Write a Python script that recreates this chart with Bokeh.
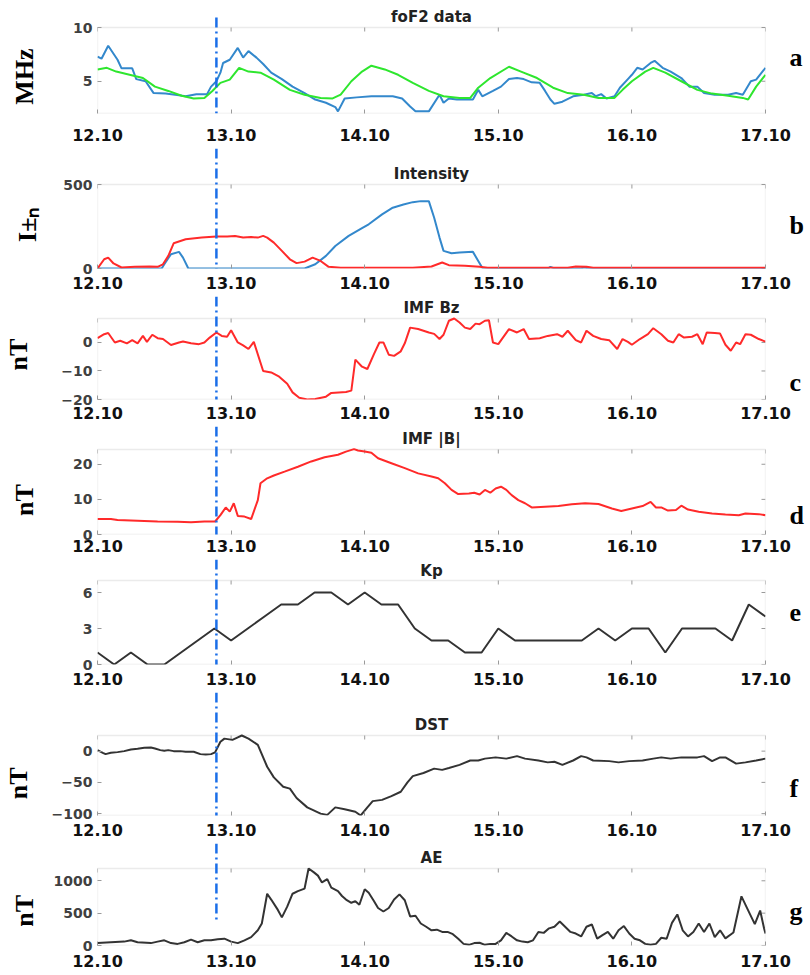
from bokeh.plotting import figure
from bokeh.layouts import column
from bokeh.models import Range1d, FixedTicker, LinearAxis, Arrow, Label, BoxAnnotation
from bokeh.embed import file_html
from bokeh.resources import INLINE

# ------------------------------------------------------------------ data
day_ticks = [12, 13, 14, 15, 16, 17]
day_tick_labels = ["12.10", "13.10", "14.10", "15.10", "16.10", "17.10"]
event_day = 12.89

# foF2 observed (blue) and model (green), MHz
fof2_obs_day = [12.0, 12.03, 12.08, 12.15, 12.18, 12.26, 12.29, 12.36, 12.42, 12.51, 12.61, 12.66,
                12.74, 12.82, 12.85, 12.89, 12.92, 12.94, 12.99, 13.05, 13.09, 13.13, 13.19, 13.24,
                13.3, 13.38, 13.46, 13.55, 13.63, 13.71, 13.78, 13.8, 13.85, 13.94, 14.05, 14.21,
                14.28, 14.34, 14.38, 14.48, 14.56, 14.59, 14.63, 14.69, 14.81, 14.85, 14.88, 14.96,
                15.02, 15.08, 15.14, 15.19, 15.25, 15.31, 15.35, 15.39, 15.42, 15.48, 15.56, 15.64,
                15.7, 15.73, 15.77, 15.81, 15.87, 15.91, 15.97, 16.0, 16.04, 16.08, 16.14, 16.17,
                16.23, 16.29, 16.37, 16.43, 16.49, 16.54, 16.62, 16.72, 16.78, 16.83, 16.89, 16.93, 17.0]
fof2_obs = [7.3, 7.1, 8.3, 7.0, 6.2, 6.2, 5.2, 5.0, 3.9, 3.85, 3.7, 3.6,
            3.8, 3.8, 4.5, 5.0, 5.8, 6.7, 7.0, 8.1, 7.2, 7.8, 7.2, 6.6,
            5.8, 5.2, 4.5, 3.9, 3.3, 3.0, 2.6, 2.2, 3.4, 3.5, 3.6, 3.6,
            3.4, 2.65, 2.2, 2.2, 3.75, 3.0, 3.4, 3.3, 3.3, 4.2, 3.6, 4.1,
            4.5, 5.2, 5.3, 5.2, 4.9, 4.85, 4.1, 3.3, 2.9, 3.1, 3.6, 3.75,
            3.9, 3.6, 3.8, 3.4, 3.6, 4.4, 5.2, 5.6, 6.25, 6.1, 6.7, 6.9,
            6.25, 5.9, 5.3, 4.5, 4.5, 3.9, 3.75, 3.75, 3.9, 3.75, 5.0, 5.15, 6.25]
fof2_model_day = [12.0, 12.07, 12.14, 12.24, 12.34, 12.43, 12.53, 12.63, 12.72, 12.8, 12.86, 12.92,
                  12.99, 13.06, 13.13, 13.22, 13.32, 13.44, 13.55, 13.67, 13.76, 13.82, 13.9, 13.98,
                  14.05, 14.15, 14.25, 14.36, 14.48, 14.59, 14.71, 14.79, 14.85, 14.94, 15.08, 15.17,
                  15.29, 15.41, 15.52, 15.64, 15.75, 15.87, 15.93, 16.0, 16.1, 16.16, 16.25, 16.37,
                  16.49, 16.6, 16.72, 16.83, 16.87, 16.93, 17.0]
fof2_model = [6.1, 6.25, 5.9, 5.6, 5.3, 4.5, 4.1, 3.65, 3.4, 3.45, 4.1, 4.85,
              5.15, 6.25, 5.9, 5.8, 5.15, 4.2, 3.75, 3.45, 3.4, 3.75, 5.0, 5.9,
              6.45, 6.1, 5.6, 4.85, 4.1, 3.6, 3.45, 3.45, 4.4, 5.3, 6.35, 5.9,
              5.3, 4.4, 3.9, 3.75, 3.45, 3.45, 4.2, 5.0, 5.9, 6.25, 5.8, 5.0,
              4.2, 3.85, 3.65, 3.45, 3.3, 4.5, 5.6]

# Intensity I+ (red) and I- (blue)
int_red_day = [12.0, 12.05, 12.08, 12.12, 12.18, 12.28, 12.39, 12.45, 12.49, 12.53, 12.57, 12.66,
               12.78, 12.89, 12.97, 13.03, 13.09, 13.15, 13.2, 13.24, 13.27, 13.32, 13.38, 13.44,
               13.49, 13.55, 13.61, 13.67, 13.73, 13.82, 14.36, 14.5, 14.58, 14.63, 14.75, 14.86,
               14.92, 15.52, 15.58, 15.66, 15.71, 17.0]
int_red = [0, 55, 65, 30, 6, 10, 12, 10, 25, 75, 150, 174,
           184, 190, 190, 194, 184, 188, 184, 194, 184, 154, 105, 55,
           32, 41, 65, 45, 10, 4, 4, 12, 36, 20, 16, 10,
           4, 4, 12, 10, 4, 4]
int_blue_day = [12.0, 12.48, 12.5, 12.55, 12.61, 12.64, 12.68, 13.55, 13.63, 13.71, 13.78, 13.88,
                13.98, 14.03, 14.13, 14.21, 14.29, 14.36, 14.42, 14.48, 14.52, 14.56, 14.59, 14.65,
                14.71, 14.81, 14.85, 14.88, 15.37, 15.39, 15.42, 15.62, 15.64, 15.68, 17.0]
int_blue = [0, 0, 25, 85, 99, 65, 0, 0, 25, 75, 134, 194,
            240, 263, 322, 362, 381, 395, 401, 401, 302, 184, 105, 91,
            95, 99, 45, 4, 0, 10, 0, 0, 6, 0, 0]

# IMF Bz, nT
bz_day = [12.0, 12.05, 12.08, 12.13, 12.17, 12.22, 12.26, 12.3, 12.34, 12.37, 12.41, 12.45,
          12.49, 12.55, 12.61, 12.64, 12.7, 12.76, 12.8, 12.84, 12.89, 12.93, 12.97, 13.0,
          13.05, 13.09, 13.13, 13.17, 13.24, 13.3, 13.36, 13.42, 13.46, 13.51, 13.57, 13.63,
          13.71, 13.75, 13.86, 13.9, 13.93, 13.98, 14.02, 14.07, 14.11, 14.14, 14.18, 14.22,
          14.27, 14.3, 14.34, 14.4, 14.44, 14.48, 14.52, 14.56, 14.59, 14.63, 14.67, 14.71,
          14.75, 14.79, 14.83, 14.86, 14.9, 14.93, 14.96, 15.0, 15.08, 15.14, 15.19, 15.23,
          15.31, 15.37, 15.44, 15.48, 15.52, 15.58, 15.62, 15.66, 15.71, 15.77, 15.83, 15.89,
          15.93, 15.97, 16.0, 16.06, 16.12, 16.16, 16.22, 16.27, 16.31, 16.35, 16.39, 16.45,
          16.49, 16.53, 16.56, 16.62, 16.66, 16.7, 16.74, 16.78, 16.81, 16.85, 16.89, 16.95, 17.0]
bz = [1.5, 2.9, 3.3, 0.0, 0.6, -0.3, 0.8, -0.3, 2.3, 0.2, 2.7, 1.5,
      1.2, -0.9, 0.0, 0.3, -0.3, -0.6, 0.0, 1.7, 3.5, 2.3, 2.0, 4.3,
      0.0, -1.0, -2.3, 0.2, -10.0, -10.5, -12.0, -14.5, -17.5, -19.4, -20.0, -19.8,
      -19.0, -17.7, -17.4, -16.9, -6.0, -8.5, -9.3, -4.0, 0.0, 0.0, -4.3, -4.7,
      -3.1, -0.3, 5.2, 4.7, 4.1, 3.5, 3.0, 1.2, 2.7, 7.6, 8.4, 7.0,
      5.2, 4.7, 6.6, 6.4, 7.6, 7.8, 0.0, -0.6, 4.7, 3.5, 4.7, 1.2,
      1.5, 2.3, 2.9, 2.0, 4.1, 0.8, 0.0, 4.1, 2.3, 1.2, 0.8, -2.3,
      1.2, 0.2, -0.8, 1.2, 2.9, 5.0, 2.9, 0.6, 0.0, 2.9, 1.7, 2.0,
      2.9, -0.6, 3.5, 3.3, 3.1, -0.8, -2.9, 0.0, -0.6, 2.9, 2.7, 1.2, 0.3]

# IMF |B|, nT
bt_day = [12.0, 12.1, 12.15, 12.3, 12.45, 12.6, 12.7, 12.8, 12.88, 12.92, 12.96, 12.99,
          13.02, 13.05, 13.1, 13.15, 13.2, 13.22, 13.27, 13.32, 13.4, 13.5, 13.6, 13.7,
          13.8, 13.86, 13.92, 13.95, 14.0, 14.05, 14.1, 14.2, 14.3, 14.4, 14.5, 14.55,
          14.6, 14.65, 14.7, 14.78, 14.82, 14.86, 14.9, 14.94, 14.98, 15.02, 15.06, 15.1,
          15.15, 15.2, 15.25, 15.35, 15.45, 15.55, 15.65, 15.75, 15.85, 15.92, 16.0, 16.08,
          16.14, 16.18, 16.22, 16.27, 16.33, 16.37, 16.42, 16.5, 16.6, 16.7, 16.8, 16.85,
          16.95, 17.0]
bt = [4.4, 4.4, 4.1, 3.9, 3.7, 3.6, 3.5, 3.7, 3.7, 5.5, 7.7, 6.5,
      8.9, 5.3, 5.1, 4.4, 9.8, 14.6, 16.0, 16.8, 17.9, 19.3, 20.8, 22.0,
      22.7, 23.6, 24.3, 23.9, 23.6, 23.3, 21.7, 20.3, 18.9, 17.4, 16.5, 16.0,
      14.6, 12.7, 11.5, 11.7, 11.9, 11.4, 12.7, 11.9, 13.1, 13.6, 12.7, 11.2,
      9.8, 8.9, 7.7, 7.9, 8.1, 8.6, 8.9, 8.7, 7.4, 6.7, 7.4, 8.1,
      9.3, 7.7, 7.7, 6.8, 7.0, 8.2, 7.1, 6.5, 6.0, 5.7, 5.5, 6.0,
      5.8, 5.5]

# Kp, 3-hourly
kp_day = [12.0, 12.125, 12.25, 12.375, 12.5, 12.625, 12.75, 12.875, 13.0, 13.125, 13.25,
          13.375, 13.5, 13.625, 13.75, 13.875, 14.0, 14.125, 14.25, 14.375, 14.5, 14.625,
          14.75, 14.875, 15.0, 15.125, 15.25, 15.375, 15.5, 15.625, 15.75, 15.875, 16.0,
          16.125, 16.25, 16.375, 16.5, 16.625, 16.75, 16.875, 17.0]
kp = [1, 0, 1, 0, 0, 1, 2, 3, 2, 3, 4,
      5, 5, 6, 6, 5, 6, 5, 5, 3, 2, 2,
      1, 1, 3, 2, 2, 2, 2, 2, 3, 2, 3,
      3, 1, 3, 3, 3, 2, 5, 4]

# Dst, nT
dst_day = [12.0, 12.04, 12.06, 12.1, 12.15, 12.2, 12.25, 12.3, 12.35, 12.4, 12.43, 12.47,
           12.5, 12.53, 12.57, 12.62, 12.66, 12.72, 12.77, 12.81, 12.85, 12.88, 12.92, 12.95,
           13.01, 13.05, 13.08, 13.13, 13.2, 13.27, 13.32, 13.39, 13.44, 13.49, 13.57, 13.67,
           13.72, 13.78, 13.85, 13.93, 13.97, 14.02, 14.06, 14.13, 14.2, 14.27, 14.32, 14.36,
           14.44, 14.52, 14.58, 14.63, 14.71, 14.79, 14.85, 14.9, 14.98, 15.06, 15.14, 15.2,
           15.3, 15.37, 15.42, 15.48, 15.56, 15.62, 15.66, 15.71, 15.83, 15.9, 15.98, 16.08,
           16.16, 16.22, 16.29, 16.37, 16.49, 16.54, 16.6, 16.66, 16.7, 16.78, 16.85, 16.93, 17.0]
dst = [1.6, -2.7, -4.8, -2.7, -1.6, 0, 2.7, 3.7, 5.3, 5.9, 4.3, 1.6,
       0.5, 1.6, 0, 0, -1, -1, -4.8, -5.3, -4.8, -2, 15, 20,
       18, 22, 25, 20, 10, -25, -42, -57, -60, -75, -90, -100,
       -102, -90, -93, -97, -103, -90, -80, -78, -72, -65, -50, -40,
       -35, -28, -30, -27, -22, -15, -15, -12, -10, -12, -8, -12,
       -15, -18, -17, -22, -15, -8, -10, -15, -16, -18, -16, -15,
       -12, -10, -12, -10, -10, -8, -16, -10, -10, -20, -18, -15, -12]

# AE, nT
ae_day = [12.0, 12.1, 12.2, 12.25, 12.3, 12.4, 12.45, 12.5, 12.55, 12.6, 12.65, 12.7,
          12.75, 12.8, 12.85, 12.9, 12.95, 13.0, 13.05, 13.1, 13.15, 13.2, 13.23, 13.27,
          13.3, 13.35, 13.38, 13.42, 13.46, 13.5, 13.55, 13.58, 13.62, 13.65, 13.68, 13.72,
          13.75, 13.8, 13.83, 13.86, 13.9, 13.93, 13.96, 14.0, 14.03, 14.07, 14.1, 14.14,
          14.18, 14.22, 14.26, 14.3, 14.34, 14.38, 14.42, 14.46, 14.5, 14.54, 14.58, 14.62,
          14.66, 14.7, 14.74, 14.78, 14.82, 14.86, 14.9, 14.94, 14.98, 15.02, 15.06, 15.1,
          15.14, 15.18, 15.22, 15.26, 15.3, 15.34, 15.38, 15.42, 15.46, 15.5, 15.54, 15.58,
          15.62, 15.66, 15.7, 15.74, 15.78, 15.82, 15.86, 15.9, 15.94, 15.98, 16.02, 16.06,
          16.1, 16.14, 16.18, 16.22, 16.26, 16.3, 16.34, 16.38, 16.42, 16.46, 16.5, 16.54,
          16.58, 16.62, 16.66, 16.7, 16.76, 16.82, 16.88, 16.92, 16.96, 16.99, 17.0]
ae = [37, 50, 60, 80, 50, 37, 60, 80, 37, 25, 50, 90,
      50, 80, 80, 95, 105, 60, 37, 80, 130, 235, 340, 800,
      710, 550, 435, 600, 800, 840, 880, 1190, 1130, 1080, 975, 1025,
      895, 840, 765, 710, 660, 685, 630, 870, 815, 685, 580, 525,
      580, 710, 790, 700, 450, 460, 340, 290, 235, 245, 210, 210,
      175, 105, 25, 10, 37, 42, 10, 25, 25, 80, 195, 140,
      80, 60, 50, 80, 210, 195, 265, 290, 370, 290, 210, 185,
      140, 290, 325, 105, 160, 210, 105, 235, 300, 185, 105, 80,
      25, 10, 25, 120, 105, 350, 480, 235, 140, 210, 340, 210,
      340, 130, 235, 110, 200, 760, 500, 330, 540, 260, 185]

# ------------------------------------------------------------------ style
SANS = "DejaVu Sans"
SERIF = "Liberation Serif"
W = 810
LEFT = 97
RIGHT = 45
BLUE = "#3388cc"
GREEN = "#2ee62e"
RED = "#ff2a2a"
DARK = "#333333"
EVENT = "#1a6ee8"
TICK = "#9a9a9a"
BOX = "#bcbcbc"
NBSP = "\u00a0"
X0, X1 = 12, 17
FRAME_W = W - LEFT - RIGHT


def make_panel(title, yr, yticks, top, box_h, bottom, xstandoff,
               ylabel=None, ylabel_pad=0, ylabel_standoff=20, letter="", letter_lines=0,
               ev_top_px=None, ev_bottom=None, title_px=11):
    """top: free space (px) above the data box; it belongs to the frame so that the
    event line and the panel title can be drawn there."""
    upp = (yr[1] - yr[0]) / box_h            # y data units per pixel
    xpp = (X1 - X0) / FRAME_W                # x data units per pixel
    ext_top = yr[1] + top * upp
    p = figure(width=W, height=top + box_h + bottom, title=None,
               x_range=Range1d(X0, X1), y_range=Range1d(yr[0], ext_top),
               output_backend="svg", toolbar_location=None,
               min_border_left=LEFT, min_border_right=RIGHT,
               min_border_top=0, min_border_bottom=bottom)
    p.grid.visible = False
    p.outline_line_color = None
    p.border_fill_color = "white"
    p.background_fill_color = "white"

    # the data box
    p.add_layout(BoxAnnotation(left=X0, right=X1, bottom=yr[0], top=yr[1], fill_color=None,
                               line_color=BOX, line_width=1.3, level="underlay"))
    # mirrored inner ticks on the top and right edges of the box
    p.segment(x0=day_ticks, y0=[yr[1]] * len(day_ticks), x1=day_ticks,
              y1=[yr[1] - 4 * upp] * len(day_ticks), line_color=TICK, line_width=1)
    p.segment(x0=[X1] * len(yticks), y0=yticks, x1=[X1 - 4 * xpp] * len(yticks), y1=yticks,
              line_color=TICK, line_width=1)

    xa = p.xaxis[0]
    xa.ticker = FixedTicker(ticks=day_ticks)
    xa.major_label_overrides = {t: l for t, l in zip(day_ticks, day_tick_labels)}
    ya = p.yaxis[0]
    ya.ticker = FixedTicker(ticks=yticks)
    for ax in (xa, ya):
        ax.axis_line_color = None
        ax.major_tick_in = 4
        ax.major_tick_out = 0
        ax.major_tick_line_color = TICK
        ax.minor_tick_line_color = None
        ax.major_label_text_font = SANS
        ax.major_label_text_font_style = "bold"
    xa.major_label_text_font_size = "16px"
    xa.major_label_text_color = "#111111"
    xa.major_label_standoff = xstandoff
    ya.major_label_text_font_size = "14px"
    ya.major_label_text_color = "#404040"
    ya.major_label_standoff = 5
    if ylabel:
        ya.axis_label = ylabel + NBSP * ylabel_pad
        ya.axis_label_text_font = SERIF
        ya.axis_label_text_font_style = "bold"
        ya.axis_label_text_font_size = "26px"
        ya.axis_label_text_color = "#000000"
        ya.axis_label_standoff = ylabel_standoff

    ra = LinearAxis(ticker=FixedTicker(ticks=[]), axis_label="\n" * letter_lines + letter,
                    axis_label_orientation="horizontal", axis_line_color=None,
                    major_tick_line_color=None, minor_tick_line_color=None,
                    major_label_standoff=0, axis_label_standoff=24,
                    axis_label_text_font=SERIF, axis_label_text_font_style="bold",
                    axis_label_text_font_size="26px", axis_label_text_color="#000000")
    p.add_layout(ra, "right")

    # panel title, just above the data box
    p.add_layout(Label(x=(X0 + X1) / 2, y=yr[1] + title_px * upp, text=title, text_align="center",
                       text_baseline="middle", text_font=SANS, text_font_style="bold",
                       text_font_size="15px", text_color="#222222"))

    # event marker (dash-dot vertical line)
    y0 = yr[1] + ev_top_px * upp if ev_top_px is not None else ext_top + 20 * upp
    y1 = ev_bottom if ev_bottom is not None else yr[0] - 20 * upp
    p.add_layout(Arrow(end=None, x_start=event_day, x_end=event_day, y_start=y0, y_end=y1,
                       line_color=EVENT, line_width=2.5, line_dash="10 4 2 4"))
    return p


pa = make_panel("foF2 data", (2, 10), [5, 10], 27, 86, 35, 15,
                ylabel="MHz", ylabel_pad=6, ylabel_standoff=31, letter="a", letter_lines=0,
                ev_top_px=10)
pa.line(fof2_obs_day, fof2_obs, line_color=BLUE, line_width=2)
pa.line(fof2_model_day, fof2_model, line_color=GREEN, line_width=2)

pb = make_panel("Intensity", (0, 500), [0, 500], 36, 84, 28, 8,
                ylabel="I\u00b1\u2099", ylabel_pad=5, ylabel_standoff=18, letter="b", letter_lines=1)
pb.line(int_blue_day, int_blue, line_color=BLUE, line_width=2)
pb.line(int_red_day, int_red, line_color=RED, line_width=2)

pc = make_panel("IMF Bz", (-20, 8.4), [-20, -10, 0], 22, 81, 27, 7,
                ylabel="nT", ylabel_pad=2, ylabel_standoff=25, letter="c", letter_lines=2)
pc.line(bz_day, bz, line_color=RED, line_width=2)

pd = make_panel("IMF |B|", (0, 24.2), [0, 10, 20], 23, 85, 25, 5,
                ylabel="nT", ylabel_pad=6, ylabel_standoff=31, letter="d", letter_lines=2)
pd.line(bt_day, bt, line_color=RED, line_width=2)

pe = make_panel("Kp", (0, 7), [0, 3, 6], 21, 84, 28, 8, letter="e", letter_lines=0,
                title_px=10)
pe.line(kp_day, kp, line_color=DARK, line_width=2)

pf = make_panel("DST", (-103, 25), [-100, -50, 0], 43, 80, 28, 8,
                ylabel="nT", ylabel_pad=9, ylabel_standoff=16, letter="f", letter_lines=2)
pf.line(dst_day, dst, line_color=DARK, line_width=2)

pg = make_panel("AE", (0, 1190), [0, 500, 1000], 25, 77, 30, 9,
                ylabel="nT", ylabel_pad=5, ylabel_standoff=12, letter="g", letter_lines=1,
                ev_bottom=360)
pg.line(ae_day, ae, line_color=DARK, line_width=2)

layout = column(pa, pb, pc, pd, pe, pf, pg, spacing=0)
open("out.html", "w").write(file_html(layout, INLINE))
